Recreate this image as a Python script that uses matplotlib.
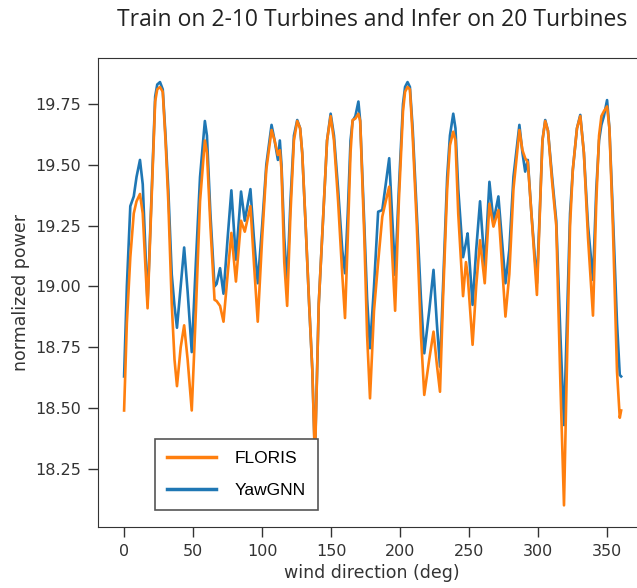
import matplotlib
matplotlib.use("Agg")
import matplotlib.pyplot as plt

deg = [0, 2, 4.5, 7, 9, 11.5, 13.5, 17, 20, 22.5, 24, 26, 28, 30, 32, 34.5, 36.5, 38.3,
       41, 43.5, 46, 49, 52, 55, 58.5, 60, 62.5, 65.5, 67, 69.5, 72, 75, 77.7, 81, 84.7,
       87.4, 91.5, 94, 96.8, 100, 103, 106.8, 109, 111.4, 112.8, 114, 116, 118.1, 120.5,
       123, 125.4, 127.5, 129, 131.5, 134, 136.3, 138.2, 141, 144.7, 147, 149.6, 152, 155,
       158, 160, 162, 164, 165.5, 167.5, 169.7, 171, 174, 176, 178.1, 181, 184, 187, 189.5,
       192, 194, 196.3, 199, 202, 203.5, 205.3, 207, 209, 212, 215, 217.4, 221, 224.1,
       226.5, 228.8, 231, 234, 236, 238.4, 240, 242, 245.5, 247.6, 248.8, 252.4, 255,
       257.8, 261.2, 264.6, 267.5, 271.1, 276.2, 279, 282, 286.3, 288.5, 290.5, 292.4, 295,
       299, 301, 303, 305, 307, 310, 313, 316, 318.6, 321, 323, 325, 328, 330.4, 333, 336,
       339.6, 342, 344, 345.7, 347.5, 349.8, 351.5, 354, 357, 359, 360]

yawgnn = [18.63, 19.00, 19.33, 19.37, 19.45, 19.52, 19.42, 18.93, 19.40, 19.78, 19.83,
          19.84, 19.81, 19.62, 19.40, 19.05, 18.92, 18.83, 19.00, 19.16, 18.98, 18.73,
          19.10, 19.45, 19.68, 19.62, 19.30, 19.00, 19.01, 19.075, 18.97, 19.20, 19.395,
          19.11, 19.39, 19.27, 19.40, 19.20, 19.013, 19.25, 19.50, 19.664, 19.60, 19.52,
          19.60, 19.50, 19.20, 19.013, 19.35, 19.62, 19.684, 19.65, 19.55, 19.25, 18.93,
          18.66, 18.30, 18.93, 19.34, 19.60, 19.71, 19.62, 19.40, 19.15, 19.054, 19.30,
          19.60, 19.68, 19.70, 19.76, 19.68, 19.25, 18.95, 18.746, 19.00, 19.307, 19.314,
          19.42, 19.527, 19.30, 19.047, 19.40, 19.75, 19.82, 19.84, 19.82, 19.65, 19.30,
          18.95, 18.725, 18.90, 19.068, 18.85, 18.67, 19.00, 19.45, 19.62, 19.71, 19.65,
          19.40, 19.12, 19.18, 19.218, 18.924, 19.15, 19.35, 19.081, 19.43, 19.266, 19.37,
          19.013, 19.15, 19.45, 19.664, 19.55, 19.472, 19.52, 19.30, 19.013, 19.30, 19.60,
          19.684, 19.64, 19.45, 19.27, 18.80, 18.43, 18.90, 19.30, 19.48, 19.65, 19.705,
          19.55, 19.25, 19.027, 19.40, 19.60, 19.664, 19.70, 19.766, 19.65, 19.30, 18.85,
          18.636, 18.63]

floris = [18.49, 18.85, 19.12, 19.30, 19.35, 19.38, 19.30, 18.91, 19.38, 19.76, 19.81,
          19.82, 19.80, 19.60, 19.35, 18.93, 18.70, 18.59, 18.75, 18.84, 18.70, 18.49,
          18.90, 19.35, 19.60, 19.55, 19.25, 18.945, 18.94, 18.92, 18.855, 19.05, 19.22,
          19.02, 19.27, 19.225, 19.33, 19.10, 18.855, 19.20, 19.48, 19.643, 19.60, 19.54,
          19.56, 19.48, 19.10, 18.92, 19.30, 19.60, 19.68, 19.65, 19.55, 19.25, 18.93,
          18.66, 18.28, 18.93, 19.34, 19.60, 19.70, 19.60, 19.35, 19.05, 18.87, 19.20,
          19.55, 19.684, 19.69, 19.71, 19.68, 19.20, 18.80, 18.54, 18.90, 19.10, 19.287,
          19.35, 19.41, 19.15, 18.90, 19.35, 19.72, 19.80, 19.82, 19.81, 19.62, 19.25,
          18.80, 18.554, 18.70, 18.814, 18.68, 18.567, 18.95, 19.40, 19.58, 19.636, 19.60,
          19.30, 18.96, 19.10, 19.05, 18.76, 19.00, 19.19, 19.013, 19.34, 19.246, 19.314,
          18.876, 19.05, 19.40, 19.643, 19.56, 19.527, 19.51, 19.30, 18.965, 19.28, 19.60,
          19.68, 19.64, 19.43, 19.25, 18.60, 18.10, 18.75, 19.25, 19.48, 19.65, 19.70,
          19.55, 19.20, 18.88, 19.35, 19.62, 19.70, 19.72, 19.74, 19.65, 19.25, 18.65,
          18.46, 18.49]

xticks = [0, 50, 100, 150, 200, 250, 300, 350]
yticks = [18.25, 18.50, 18.75, 19.00, 19.25, 19.50, 19.75]

title = "Train on 2-10 Turbines and Infer on 20 Turbines"
xlabel = "wind direction (deg)"
ylabel = "normalized power"

fig = plt.figure(figsize=(6.37, 5.88), dpi=100)
ax = fig.add_axes([98 / 637, 1 - 527 / 588, 548 / 637, (527 - 58) / 588])

l_blue, = ax.plot(deg, yawgnn, color="#1f77b4", lw=1.9, label="YawGNN")
l_orange, = ax.plot(deg, floris, color="#ff7f0e", lw=1.9, label="FLORIS")

ax.set_xlim(-18.9, 378.0)
ax.set_ylim(18.011, 19.939)
ax.set_xticks(xticks)
ax.set_yticks(yticks)
ax.set_yticklabels([f"{v:.2f}" for v in yticks])
ax.tick_params(labelsize=11.5, length=7, width=1.0, pad=5,
               color="#333333", labelcolor="#333333")
for s in ax.spines.values():
    s.set_color("#333333")

fig.text(372 / 637, 1 - 20 / 588, title, fontsize=16.5, color="#222222",
         family="Open Sans", ha="center", va="center")
ax.set_xlabel(xlabel, fontsize=12.5, color="#333333", labelpad=4)
ax.set_ylabel(ylabel, fontsize=12.5, color="#333333", labelpad=4)

leg = ax.legend([l_orange, l_blue], ["FLORIS", "YawGNN"], loc="lower left",
                bbox_to_anchor=(57 / 548, 17 / 469), borderaxespad=0,
                fancybox=False, edgecolor="#555555", framealpha=1.0,
                handlelength=2.8, prop={"family": "Liberation Sans", "size": 12.5},
                borderpad=0.7, labelspacing=0.95, handletextpad=1.1)
leg.get_frame().set_linewidth(1.2)
for h in leg.get_lines():
    h.set_linewidth(2.5)

fig.savefig("out.png", dpi=100)
